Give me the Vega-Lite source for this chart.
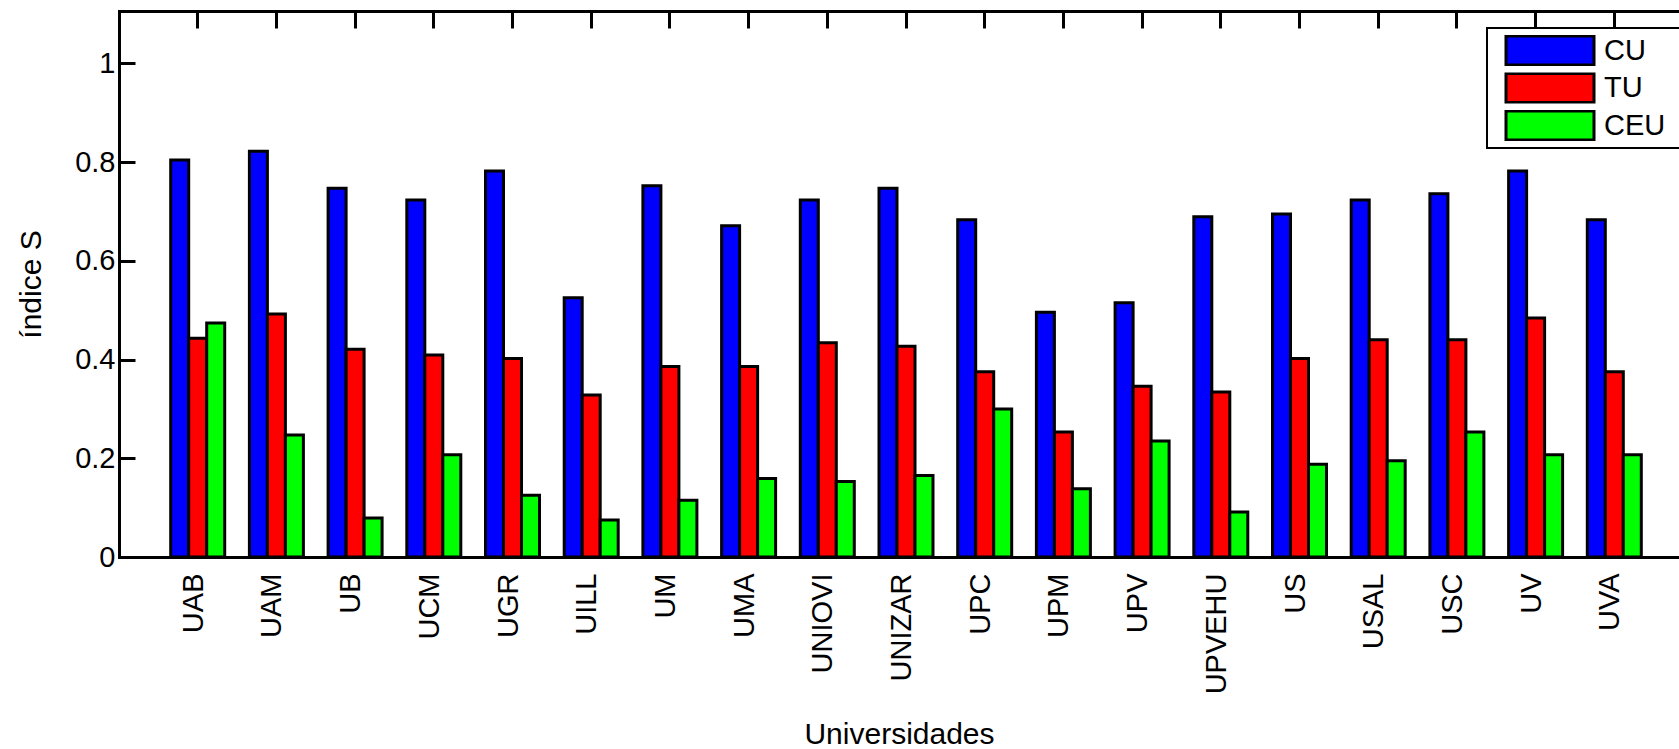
{
  "$schema": "https://vega.github.io/schema/vega-lite/v6.json",
  "autosize": {"type": "none"},
  "padding": {"left": 119, "top": 11, "right": 0, "bottom": 192},
  "width": 1560,
  "height": 546,
  "background": "white",
  "config": {
    "view": {"stroke": null},
    "font": "Liberation Sans",
    "axis": {
      "domainColor": "black", "domainWidth": 3, "domainCap": "square",
      "tickColor": "black", "tickWidth": 3,
      "labelColor": "black", "titleColor": "black",
      "labelFont": "Liberation Sans", "titleFont": "Liberation Sans",
      "labelFontSize": 29, "titleFontSize": 30, "titleFontWeight": "normal",
      "grid": false
    },
    "legend": {
      "strokeWidth": 2
    }
  },
  "data": {"values": [
    {"u": "UAB", "s": "CU", "v": 0.804}, {"u": "UAB", "s": "TU", "v": 0.443}, {"u": "UAB", "s": "CEU", "v": 0.474},
    {"u": "UAM", "s": "CU", "v": 0.822}, {"u": "UAM", "s": "TU", "v": 0.492}, {"u": "UAM", "s": "CEU", "v": 0.247},
    {"u": "UB", "s": "CU", "v": 0.747}, {"u": "UB", "s": "TU", "v": 0.421}, {"u": "UB", "s": "CEU", "v": 0.079},
    {"u": "UCM", "s": "CU", "v": 0.723}, {"u": "UCM", "s": "TU", "v": 0.409}, {"u": "UCM", "s": "CEU", "v": 0.207},
    {"u": "UGR", "s": "CU", "v": 0.782}, {"u": "UGR", "s": "TU", "v": 0.402}, {"u": "UGR", "s": "CEU", "v": 0.125},
    {"u": "UILL", "s": "CU", "v": 0.525}, {"u": "UILL", "s": "TU", "v": 0.328}, {"u": "UILL", "s": "CEU", "v": 0.075},
    {"u": "UM", "s": "CU", "v": 0.752}, {"u": "UM", "s": "TU", "v": 0.386}, {"u": "UM", "s": "CEU", "v": 0.115},
    {"u": "UMA", "s": "CU", "v": 0.671}, {"u": "UMA", "s": "TU", "v": 0.386}, {"u": "UMA", "s": "CEU", "v": 0.159},
    {"u": "UNIOVI", "s": "CU", "v": 0.723}, {"u": "UNIOVI", "s": "TU", "v": 0.434}, {"u": "UNIOVI", "s": "CEU", "v": 0.153},
    {"u": "UNIZAR", "s": "CU", "v": 0.747}, {"u": "UNIZAR", "s": "TU", "v": 0.427}, {"u": "UNIZAR", "s": "CEU", "v": 0.165},
    {"u": "UPC", "s": "CU", "v": 0.683}, {"u": "UPC", "s": "TU", "v": 0.375}, {"u": "UPC", "s": "CEU", "v": 0.300},
    {"u": "UPM", "s": "CU", "v": 0.496}, {"u": "UPM", "s": "TU", "v": 0.253}, {"u": "UPM", "s": "CEU", "v": 0.138},
    {"u": "UPV", "s": "CU", "v": 0.515}, {"u": "UPV", "s": "TU", "v": 0.346}, {"u": "UPV", "s": "CEU", "v": 0.235},
    {"u": "UPVEHU", "s": "CU", "v": 0.689}, {"u": "UPVEHU", "s": "TU", "v": 0.334}, {"u": "UPVEHU", "s": "CEU", "v": 0.091},
    {"u": "US", "s": "CU", "v": 0.695}, {"u": "US", "s": "TU", "v": 0.402}, {"u": "US", "s": "CEU", "v": 0.188},
    {"u": "USAL", "s": "CU", "v": 0.723}, {"u": "USAL", "s": "TU", "v": 0.440}, {"u": "USAL", "s": "CEU", "v": 0.195},
    {"u": "USC", "s": "CU", "v": 0.736}, {"u": "USC", "s": "TU", "v": 0.440}, {"u": "USC", "s": "CEU", "v": 0.253},
    {"u": "UV", "s": "CU", "v": 0.782}, {"u": "UV", "s": "TU", "v": 0.484}, {"u": "UV", "s": "CEU", "v": 0.207},
    {"u": "UVA", "s": "CU", "v": 0.683}, {"u": "UVA", "s": "TU", "v": 0.375}, {"u": "UVA", "s": "CEU", "v": 0.207}
  ]},
  "layer": [
    {
      "mark": {"type": "bar", "stroke": "black", "strokeWidth": 3},
      "encoding": {
        "x": {
          "field": "u", "type": "nominal", "sort": null,
          "scale": {"range": [0, 1574], "paddingInner": 0.314, "paddingOuter": 0.657},
          "axis": {"orient": "bottom", "ticks": false, "labelAngle": -90, "labelPadding": 16, "labelOffset": -4,
                   "title": "Universidades", "titlePadding": 26, "titleX": 780}
        },
        "xOffset": {"field": "s", "type": "nominal", "scale": {"domain": ["CU", "TU", "CEU"], "paddingInner": 0, "paddingOuter": 0}},
        "y": {
          "field": "v", "type": "quantitative",
          "scale": {"domain": [0, 1.106], "nice": false},
          "axis": {"orient": "left", "values": [0, 0.2, 0.4, 0.6, 0.8, 1], "format": "~g",
                   "tickSize": -16, "labelPadding": 20, "title": "índice S", "titlePadding": 28}
        },
        "color": {
          "field": "s", "type": "nominal",
          "scale": {"domain": ["CU", "TU", "CEU"], "range": ["#0000ff", "#ff0000", "#00ff00"]},
          "legend": {
            "orient": "none", "legendX": 1368, "legendY": 17,
            "title": "\u2800", "titleOrient": "right", "titleFontSize": 1, "titlePadding": 10,
            "strokeColor": "black", "padding": 7,
            "symbolType": "M-4.4,-1.45H4.4V1.45H-4.4Z", "symbolSize": 400,
            "symbolStrokeColor": "black", "symbolStrokeWidth": 3, "symbolOpacity": 1,
            "symbolOffset": 41.5, "labelOffset": 39.5,
            "labelFont": "Liberation Sans", "labelFontSize": 29, "labelColor": "black",
            "clipHeight": 31,
            "rowPadding": 6.5
          }
        }
      }
    },
    {
      "mark": {"type": "point", "opacity": 0},
      "encoding": {
        "x": {
          "field": "u", "type": "nominal", "sort": null,
          "axis": {"orient": "top", "labels": false, "tickSize": -17, "title": null}
        }
      }
    }
  ],
  "resolve": {"axis": {"x": "independent"}}
}
